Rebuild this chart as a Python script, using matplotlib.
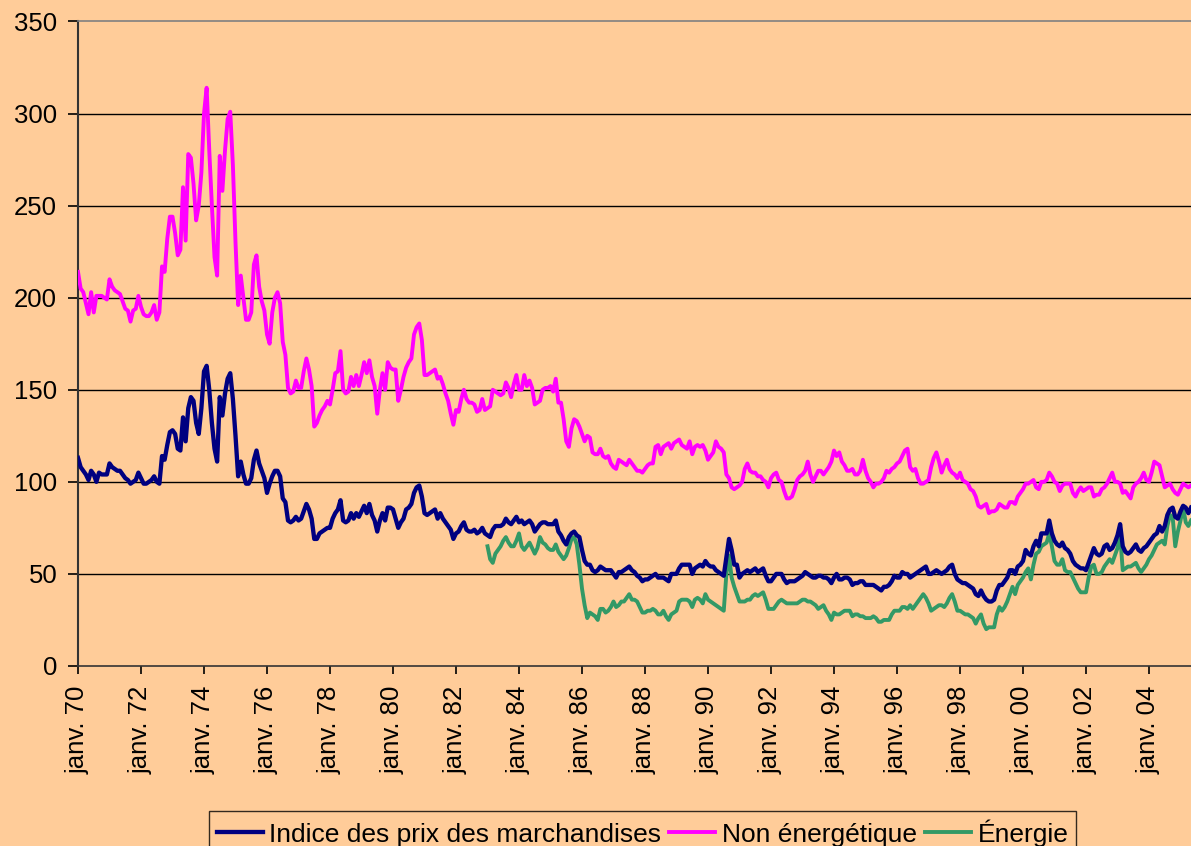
import numpy as np
import matplotlib
matplotlib.use("Agg")
import matplotlib.pyplot as plt

plt.rcParams['font.family'] = ['Liberation Sans', 'DejaVu Sans']

# monthly values, janv. 1970 -> mai 2005, one row per year
indice = [
    113, 108, 106, 104, 101, 106, 104, 100, 105, 104, 104, 104,
    110, 108, 107, 106, 106, 104, 102, 101, 99, 100, 101, 105,
    102, 99, 99, 100, 101, 103, 100, 99, 114, 112, 120, 127,
    128, 126, 118, 117, 135, 122, 140, 146, 144, 132, 126, 140,
    160, 163, 150, 132, 118, 111, 146, 136, 148, 156, 159, 145,
    125, 103, 111, 104, 99, 99, 102, 112, 117, 110, 106, 102,
    94, 99, 103, 106, 106, 103, 91, 89, 79, 78, 79, 81,
    79, 80, 84, 88, 85, 80, 69, 69, 72, 73, 74, 75,
    75, 80, 83, 85, 90, 79, 78, 79, 83, 80, 83, 81,
    84, 87, 83, 88, 82, 79, 73, 79, 83, 79, 86, 86,
    85, 80, 75, 78, 80, 85, 86, 88, 94, 97, 98, 92,
    83, 82, 83, 84, 85, 80, 83, 80, 78, 76, 74, 69,
    72, 73, 76, 78, 74, 73, 73, 74, 72, 73, 75, 72,
    71, 70, 74, 76, 76, 76, 77, 80, 78, 77, 79, 81,
    78, 79, 77, 78, 79, 77, 73, 75, 77, 78, 78, 77,
    77, 77, 79, 73, 71, 68, 66, 70, 72, 73, 71, 70,
    63, 57, 55, 55, 52, 51, 52, 54, 53, 52, 52, 52,
    50, 48, 51, 51, 52, 53, 54, 52, 51, 49, 48, 46,
    47, 47, 48, 49, 50, 48, 48, 48, 47, 46, 50, 50,
    50, 53, 55, 55, 55, 55, 50, 53, 54, 55, 54, 57,
    55, 54, 54, 52, 51, 50, 49, 59, 69, 63, 55, 55,
    48, 50, 51, 52, 51, 52, 53, 51, 52, 53, 49, 46,
    46, 48, 50, 50, 50, 47, 45, 46, 46, 46, 47, 48,
    49, 51, 50, 49, 48, 48, 49, 49, 48, 48, 47, 45,
    48, 50, 47, 47, 48, 48, 47, 44, 45, 45, 46, 46,
    44, 44, 44, 44, 43, 42, 41, 43, 43, 44, 46, 49,
    48, 48, 51, 50, 50, 48, 49, 50, 51, 52, 53, 54,
    50, 50, 51, 52, 51, 50, 51, 52, 54, 55, 50, 47,
    46, 45, 45, 44, 43, 42, 39, 38, 41, 38, 36, 35,
    35, 36, 41, 44, 44, 46, 48, 52, 52, 50, 54, 55,
    57, 63, 61, 60, 65, 68, 65, 72, 72, 72, 79, 72,
    68, 66, 65, 67, 64, 63, 61, 57, 55, 54, 53, 53,
    52, 56, 60, 64, 61, 60, 61, 65, 66, 63, 64, 67,
    71, 77, 65, 62, 61, 62, 64, 66, 63, 62, 64, 65,
    67, 69, 71, 72, 76, 73, 76, 82, 85, 86, 81, 80,
    84, 87, 86, 83, 86,
]

non_energie = [
    214, 205, 203, 197, 191, 203, 192, 201, 201, 201, 200, 199,
    210, 206, 204, 203, 202, 198, 194, 193, 187, 193, 194, 201,
    195, 191, 190, 190, 192, 196, 188, 192, 217, 214, 232, 244,
    244, 235, 223, 226, 260, 231, 278, 276, 262, 242, 250, 268,
    300, 314, 280, 250, 222, 212, 277, 258, 280, 297, 301, 272,
    230, 196, 212, 200, 188, 188, 192, 218, 223, 206, 198, 193,
    180, 175, 192, 200, 203, 197, 176, 169, 151, 148, 149, 155,
    151, 151, 160, 167, 161, 152, 130, 132, 136, 139, 141, 144,
    142, 150, 159, 160, 171, 150, 148, 149, 157, 152, 158, 152,
    158, 165, 159, 166, 157, 152, 137, 150, 159, 150, 165, 162,
    161, 161, 144, 150, 157, 162, 165, 167, 180, 184, 186, 177,
    158, 158, 159, 160, 161, 156, 157, 153, 148, 144, 137, 131,
    139, 138, 145, 150, 145, 143, 143, 142, 138, 139, 145, 139,
    140, 141, 150, 149, 148, 147, 148, 154, 151, 146, 153, 158,
    150, 150, 158, 152, 155, 151, 142, 143, 144, 150, 151, 151,
    152, 149, 156, 143, 143, 134, 122, 119, 129, 134, 133, 130,
    126, 122, 125, 124, 116, 115, 115, 118, 114, 113, 114, 110,
    108, 107, 112, 111, 110, 109, 112, 110, 108, 106, 106, 105,
    107, 109, 110, 110, 119, 120, 115, 119, 120, 121, 118, 121,
    122, 123, 120, 119, 118, 122, 115, 119, 120, 119, 120, 117,
    112, 114, 116, 122, 119, 118, 116, 104, 102, 97, 96, 97,
    98, 100, 107, 110, 106, 105, 105, 103, 103, 101, 100, 97,
    102, 104, 105, 101, 100, 95, 91, 91, 92, 96, 101, 103,
    104, 106, 111, 104, 100, 103, 106, 106, 104, 106, 108, 111,
    117, 114, 116, 111, 109, 106, 106, 107, 104, 104, 106, 112,
    106, 102, 100, 97, 99, 99, 100, 102, 106, 105, 107, 108,
    110, 111, 114, 117, 118, 108, 106, 107, 102, 99, 99, 100,
    101, 108, 113, 116, 111, 105, 109, 112, 107, 105, 104, 102,
    105, 101, 100, 99, 96, 95, 92, 87, 86, 87, 88, 83,
    84, 84, 85, 88, 87, 86, 86, 89, 89, 88, 92, 94,
    96, 99, 99, 100, 101, 97, 96, 100, 100, 101, 105, 103,
    100, 99, 95, 98, 99, 99, 99, 94, 92, 95, 97, 95,
    96, 97, 97, 92, 93, 93, 96, 97, 99, 102, 105, 100,
    100, 99, 94, 95, 93, 91, 97, 99, 100, 102, 105, 101,
    100, 105, 111, 110, 109, 103, 97, 98, 99, 96, 94, 93,
    96, 99, 98, 97, 98,
]

# energie starts janv. 1983
energie = [
    65, 58, 56, 61, 63, 65, 68, 70, 67, 65, 65, 68,
    72, 65, 63, 65, 67, 64, 61, 64, 70, 67, 66, 64,
    63, 63, 66, 62, 60, 58, 60, 64, 69, 70, 66, 55,
    42, 33, 26, 29, 28, 27, 25, 31, 31, 29, 30, 32,
    35, 32, 33, 35, 35, 37, 39, 36, 36, 35, 32, 29,
    29, 30, 30, 31, 30, 28, 28, 30, 27, 25, 28, 29,
    30, 35, 36, 36, 36, 35, 32, 36, 37, 36, 34, 39,
    36, 35, 34, 33, 32, 31, 30, 50, 60, 48, 43, 39,
    35, 35, 35, 36, 36, 38, 39, 38, 39, 40, 36, 31,
    31, 31, 33, 35, 36, 35, 34, 34, 34, 34, 34, 35,
    36, 36, 35, 35, 34, 33, 31, 32, 33, 30, 28, 25,
    29, 28, 28, 29, 30, 30, 30, 27, 28, 28, 27, 27,
    26, 26, 26, 27, 26, 24, 24, 25, 25, 25, 28, 30,
    30, 30, 32, 32, 31, 33, 31, 33, 35, 37, 39, 37,
    34, 30, 31, 32, 33, 33, 32, 34, 37, 39, 35, 30,
    30, 29, 28, 28, 27, 26, 23, 26, 28, 23, 20, 21,
    21, 21, 28, 32, 30, 32, 35, 39, 43, 39, 44, 46,
    48, 51, 53, 47, 55, 61, 62, 65, 66, 67, 72, 65,
    57, 55, 55, 58, 52, 51, 51, 48, 45, 42, 40, 40,
    40, 48, 54, 55, 50, 50, 51, 54, 56, 58, 56, 60,
    64, 71, 52, 53, 54, 54, 55, 56, 53, 51, 53, 55,
    58, 60, 63, 66, 67, 68, 66, 76, 82, 81, 65, 73,
    79, 86, 78, 76, 79,
]

tick_years = list(range(1970, 2005, 2))
tick_labels = ['janv. %02d' % (y % 100) for y in tick_years]

bg = '#FFCC99'
t = 1970 + np.arange(len(indice)) / 12.0
t_en = 1983 + np.arange(len(energie)) / 12.0

fig = plt.figure(figsize=(11.91, 8.46), dpi=100, facecolor=bg)
ax = fig.add_axes([0.0655, 0.2128, 0.9345, 0.7618])
ax.set_facecolor(bg)

for y in range(50, 350, 50):
    ax.axhline(y, color='black', lw=1.0, zorder=1)

l1, = ax.plot(t, indice, color='#000080', lw=3.1, zorder=3)
l2, = ax.plot(t, non_energie, color='#FF00FF', lw=2.8, zorder=3)
l3, = ax.plot(t_en, energie, color='#339966', lw=2.8, zorder=2)

ax.set_xlim(1970, t[-1])
ax.set_ylim(0, 350)
ax.set_yticks(range(0, 351, 50))
ax.set_xticks(tick_years)
ax.set_xticklabels(tick_labels, rotation=90)

ax.tick_params(axis='both', labelsize=18.5, colors='black', width=1.2)
ax.tick_params(axis='y', length=7, pad=8)
ax.tick_params(axis='x', length=6, pad=8)

ax.spines['right'].set_visible(False)
ax.spines['top'].set_color('#808080')
ax.spines['top'].set_linewidth(1.2)
ax.spines['left'].set_color('#333333')
ax.spines['left'].set_linewidth(1.5)
ax.spines['bottom'].set_color('#333333')
ax.spines['bottom'].set_linewidth(1.2)

leg = fig.legend([l1, l2, l3],
                 ['Indice des prix des marchandises', 'Non énergétique', 'Énergie'],
                 loc='upper center', bbox_to_anchor=(0.5395, 0.041), ncol=3,
                 fontsize=19, frameon=True, fancybox=False, facecolor=bg,
                 edgecolor='black', handlelength=1.75, handletextpad=0.25,
                 columnspacing=0.3, borderpad=0.3, borderaxespad=0)
leg.get_frame().set_linewidth(1.0)

fig.savefig('out.png', dpi=100, facecolor=bg)
